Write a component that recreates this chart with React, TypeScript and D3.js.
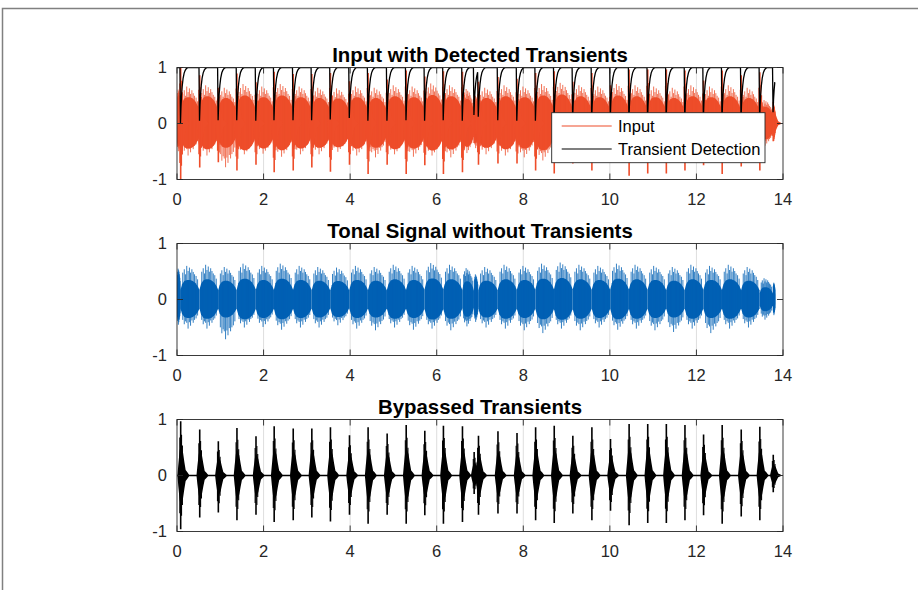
import React from 'react';
import * as d3 from 'd3';

const X_TICKS = [0, 2, 4, 6, 8, 10, 12, 14];
const Y_TICKS = [-1, 0, 1];
const TITLES = ['Input with Detected Transients', 'Tonal Signal without Transients', 'Bypassed Transients'];
const LEGEND_LABELS = ['Input', 'Transient Detection'];

const SIGNAL_END = 13.82;

// onset time, positive / negative peak of each bypassed transient
const TRANSIENT_TIMES = [0.08, 0.52, 0.95, 1.38, 1.82, 2.24, 2.68, 3.11, 3.54, 3.98, 4.41, 4.85, 5.29, 5.72, 6.15, 6.59, 6.86, 6.96, 7.41, 7.85, 8.28, 8.71, 9.14, 9.58, 10.01, 10.44, 10.87, 11.3, 11.73, 12.16, 12.59, 13.03, 13.46, 13.77];
const TRANSIENT_TOP = [0.97, 0.82, 0.61, 0.85, 0.7, 0.88, 0.84, 0.84, 0.86, 0.72, 0.86, 0.75, 0.9, 0.8, 0.89, 0.88, 0.42, 0.71, 0.79, 0.76, 0.86, 0.89, 0.71, 0.86, 0.65, 0.92, 0.92, 0.92, 0.9, 0.73, 0.9, 0.82, 0.87, 0.37];
const TRANSIENT_BOTTOM = [-0.96, -0.75, -0.66, -0.8, -0.7, -0.83, -0.8, -0.75, -0.82, -0.7, -0.86, -0.7, -0.86, -0.71, -0.86, -0.83, -0.33, -0.7, -0.68, -0.68, -0.8, -0.85, -0.68, -0.8, -0.63, -0.89, -0.85, -0.85, -0.8, -0.71, -0.86, -0.73, -0.8, -0.3];
// lowest value of the detection curve at each transient
const DETECTION_MIN = [0.0, 0.05, 0.06, 0.06, 0.05, 0.06, 0.06, 0.06, 0.07, 0.1, 0.05, 0.05, 0.06, 0.05, 0.06, 0.05, 0.15, 0.12, 0.06, 0.05, 0.05, 0.04, 0.06, 0.05, 0.08, 0.04, 0.04, 0.05, 0.05, 0.07, 0.05, 0.06, 0.05, 0.2];

// tonal peaks per segment: before the first transient, between each pair, after the last
const TONAL_TOP = [0.55, 0.6, 0.62, 0.58, 0.64, 0.6, 0.64, 0.6, 0.58, 0.57, 0.6, 0.58, 0.62, 0.6, 0.65, 0.62, 0.56, 0.45, 0.58, 0.62, 0.6, 0.64, 0.66, 0.62, 0.6, 0.64, 0.62, 0.6, 0.58, 0.62, 0.6, 0.62, 0.58, 0.38, 0.3];
const TONAL_BOTTOM = [-0.45, -0.52, -0.52, -0.71, -0.5, -0.49, -0.54, -0.5, -0.5, -0.46, -0.52, -0.55, -0.5, -0.54, -0.52, -0.55, -0.48, -0.4, -0.5, -0.52, -0.55, -0.6, -0.52, -0.55, -0.5, -0.54, -0.52, -0.55, -0.58, -0.52, -0.6, -0.52, -0.5, -0.36, -0.28];

// shape templates (relative)
const CORE_U = [0, 0.08, 0.2, 0.35, 0.5, 0.65, 0.8, 0.92, 1];
const CORE_F = [0.28, 0.45, 0.55, 0.58, 0.58, 0.55, 0.48, 0.38, 0.28];
const SPIKE_U = [0.12, 0.2, 0.27, 0.33, 0.4, 0.47, 0.53, 0.6, 0.67, 0.74, 0.82, 0.9];
const SPIKE_UP = [0.8, 0.9, 0.75, 1.0, 0.85, 0.95, 0.8, 0.9, 0.82, 0.75, 0.7, 0.6];
const SPIKE_DN = [0.7, 0.85, 0.75, 0.8, 1.0, 0.78, 0.9, 0.72, 0.8, 0.7, 0.65, 0.55];
const BODY_DT = [-0.07, -0.05, -0.02, 0, 0.03, 0.06, 0.09, 0.12, 0.16, 0.21];
const BODY_F = [0, 0.2, 0.45, 0.55, 0.5, 0.42, 0.25, 0.1, 0.06, 0];
const HIT_DT = [-0.015, 0.005, 0.025, 0.045];
const HIT_F = [0.7, 1, 0.75, 0.55];
const REC_DT = [0, 0.012, 0.025, 0.04, 0.06, 0.085, 0.11, 0.14, 0.18];
const REC_F = [0, 0.3, 0.5, 0.66, 0.8, 0.9, 0.95, 0.985, 1];

const W = 918;
const H = 590;
const LEFT = 177;
const RIGHT = 783;
const TOPS = [67.5, 243.5, 419.5];
const AX_H = 112;
const FONT = '"Liberation Sans", Arial, Helvetica, sans-serif';
const AXIS_COLOR = '#262626';
const RED = '#ee4d2a';
const BLUE = '#0060b4';

type Pt = [number, number, number];

function tonalMarks(x: any, y: any, coreScale: number, spikeScale: number, color: string, key: string) {
  const bounds = [0, ...TRANSIENT_TIMES, SIGNAL_END];
  const area = d3.area<Pt>().x(d => x(d[0])).y1(d => y(d[1])).y0(d => y(d[2]));
  const out: any[] = [];
  TONAL_TOP.forEach((top, i) => {
    const t0 = bounds[i];
    const w = bounds[i + 1] - t0;
    const bot = TONAL_BOTTOM[i];
    const pts: Pt[] = CORE_U.map((u, k) => [t0 + u * w, CORE_F[k] * top * coreScale, -CORE_F[k] * top * coreScale * 0.95]);
    out.push(<path key={`${key}c${i}`} d={area(pts) || ''} fill={color} />);
    SPIKE_U.forEach((u, k) => {
      const xx = x(t0 + u * w);
      out.push(
        <line key={`${key}s${i}-${k}`} x1={xx} x2={xx} y1={y(SPIKE_UP[k] * top * spikeScale)} y2={y(SPIKE_DN[k] * bot * spikeScale)}
          stroke={color} strokeWidth={1} strokeOpacity={0.8} />
      );
    });
  });
  return out;
}

function transientMarks(x: any, y: any, scale: number, color: string, key: string) {
  const area = d3.area<Pt>().x(d => x(d[0])).y1(d => y(d[1])).y0(d => y(d[2]));
  const out: any[] = [];
  TRANSIENT_TIMES.forEach((t, i) => {
    const top = TRANSIENT_TOP[i] * scale;
    const bot = TRANSIENT_BOTTOM[i] * scale;
    const pts: Pt[] = BODY_DT.map((dt, k) => [t + dt, BODY_F[k] * top, BODY_F[k] * bot]);
    out.push(<path key={`${key}b${i}`} d={area(pts) || ''} fill={color} />);
    HIT_DT.forEach((dt, k) => {
      const xx = x(t + dt);
      out.push(
        <line key={`${key}h${i}-${k}`} x1={xx} x2={xx} y1={y(HIT_F[k] * top)} y2={y(HIT_F[k] * bot)}
          stroke={color} strokeWidth={k === 1 ? 1.6 : 1.1} />
      );
    });
  });
  return out;
}

function detectionPoints(): [number, number][] {
  const pts: [number, number][] = [[0, 1]];
  TRANSIENT_TIMES.forEach((t, i) => {
    const lo = DETECTION_MIN[i];
    const next = i < TRANSIENT_TIMES.length - 1 ? TRANSIENT_TIMES[i + 1] : Infinity;
    if (pts[pts.length - 1][1] >= 0.999) pts.push([t - 0.012, 1]);
    for (let k = 0; k < REC_DT.length; k++) {
      const tt = t + REC_DT[k];
      if (tt >= next - 0.012 || tt > SIGNAL_END) break;
      pts.push([tt, lo + (1 - lo) * REC_F[k]]);
    }
  });
  const last = pts[pts.length - 1];
  if (last[0] < SIGNAL_END) pts.push([SIGNAL_END, last[1]]);
  return pts;
}

const App = () => {
  const x = d3.scaleLinear().domain([0, 14]).range([LEFT, RIGHT]);
  const tick = 6;

  return (
    <svg width={W} height={H} style={{ position: 'absolute', left: 0, top: 0, display: 'block', background: '#fff' }}>
      <rect x={0} y={0} width={W} height={H} fill="#fff" />
      <path d={`M2.5,${H} V8.5 H${W}`} fill="none" stroke="#808080" strokeWidth={1.5} />
      {TOPS.map((top, p) => {
        const y = d3.scaleLinear().domain([-1, 1]).range([top + AX_H, top]);
        const line = d3.line<[number, number]>().x(d => x(d[0])).y(d => y(d[1]));
        return (
          <g key={p}>
            <defs>
              <clipPath id={`clip${p}`}>
                <rect x={LEFT} y={top} width={RIGHT - LEFT} height={AX_H} />
              </clipPath>
            </defs>
            {X_TICKS.slice(1, -1).map(v => (
              <line key={v} x1={x(v)} x2={x(v)} y1={top} y2={top + AX_H} stroke="#dedede" strokeWidth={1} />
            ))}
            <g clipPath={`url(#clip${p})`}>
              {p === 0 && tonalMarks(x, y, 1.35, 1.1, RED, 'in')}
              {p === 0 && transientMarks(x, y, 1.05, RED, 'it')}
              {p === 0 && (
                <path d={line(detectionPoints()) || ''} fill="none" stroke="#000" strokeWidth={1.3} />
              )}
              {p === 1 && tonalMarks(x, y, 1, 1, BLUE, 'tn')}
              {p === 2 && (
                <line x1={x(0)} x2={x(SIGNAL_END)} y1={y(0)} y2={y(0)} stroke="#000" strokeWidth={1.3} />
              )}
              {p === 2 && transientMarks(x, y, 1, '#000', 'tr')}
            </g>
            <rect x={LEFT} y={top} width={RIGHT - LEFT} height={AX_H} fill="none" stroke={AXIS_COLOR} strokeWidth={0.9} />
            {X_TICKS.map(v => (
              <g key={v}>
                <line x1={x(v)} x2={x(v)} y1={top + AX_H} y2={top + AX_H - tick} stroke={AXIS_COLOR} strokeWidth={0.9} />
                <line x1={x(v)} x2={x(v)} y1={top} y2={top + tick} stroke={AXIS_COLOR} strokeWidth={0.9} />
                <text x={x(v)} y={top + AX_H + 25.5} textAnchor="middle" fontFamily={FONT} fontSize={16.5} fill={AXIS_COLOR}>
                  {v}
                </text>
              </g>
            ))}
            {Y_TICKS.map(v => (
              <g key={v}>
                <line x1={LEFT} x2={LEFT + tick} y1={y(v)} y2={y(v)} stroke={AXIS_COLOR} strokeWidth={0.9} />
                <line x1={RIGHT} x2={RIGHT - tick} y1={y(v)} y2={y(v)} stroke={AXIS_COLOR} strokeWidth={0.9} />
                <text x={LEFT - 10} y={y(v)} dy="0.35em" textAnchor="end" fontFamily={FONT} fontSize={16.5} fill={AXIS_COLOR}>
                  {v}
                </text>
              </g>
            ))}
            <text x={(LEFT + RIGHT) / 2} y={top - 5.5} textAnchor="middle" fontFamily={FONT} fontSize={20.4} fontWeight="bold" fill="#000">
              {TITLES[p]}
            </text>
          </g>
        );
      })}
      <g>
        <rect x={551.7} y={112.7} width={213.3} height={50} fill="#fff" stroke={AXIS_COLOR} strokeWidth={0.9} />
        {LEGEND_LABELS.map((label, i) => (
          <g key={label}>
            <line x1={561.7} x2={611.7} y1={126 + i * 23} y2={126 + i * 23} stroke={i === 0 ? RED : '#000'} strokeWidth={1.2} />
            <text x={618} y={126 + i * 23} dy="0.35em" fontFamily={FONT} fontSize={16.5} fill="#000">
              {label}
            </text>
          </g>
        ))}
      </g>
    </svg>
  );
};

export default App;
